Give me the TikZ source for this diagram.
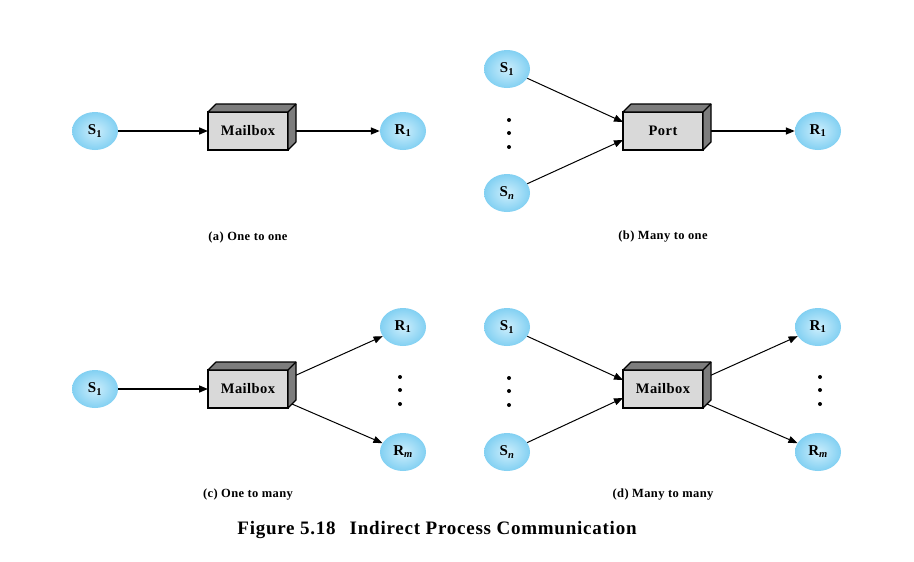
\documentclass[tikz,border=0pt]{standalone}
\usepackage{fontspec}
\setmainfont{Liberation Serif}
\usetikzlibrary{positioning,arrows.meta,shapes.geometric,calc}
\definecolor{ballblue}{RGB}{130,208,242}
\definecolor{balllight}{RGB}{205,238,252}
\definecolor{boxface}{RGB}{217,217,217}
\definecolor{boxside}{RGB}{125,125,125}

\begin{document}
\begin{tikzpicture}[x=1pt, y=-1pt,
    proc/.style={ellipse, minimum width=46pt, minimum height=38pt, inner sep=0pt,
                 inner color=balllight, outer color=ballblue,
                 font=\fontsize{15}{17}\selectfont\bfseries},
    queue/.style={rectangle, draw=black, line width=1.5pt, fill=boxface, outer sep=0pt,
                  minimum width=80pt, minimum height=38pt,
                  font=\fontsize{14.5}{16}\selectfont\bfseries\addfontfeature{LetterSpace=3}},
    arrow/.style={-{Triangle[length=9pt,width=7pt]}, line width=1.6pt},
    slant/.style={-{Triangle[length=9pt,width=7pt]}, line width=1pt},
    caption/.style={font=\fontsize{12.5}{14}\selectfont\bfseries\addfontfeature{LetterSpace=3}}
]
    \useasboundingbox (0,0) rectangle (914,562);

    % (a) one to one
    \node[proc] (s1a) at (95,131) {S\textsubscript{1}};
    \node[queue] (mba) at (248,131) {Mailbox};
    \node[proc] (r1a) at (403,131) {R\textsubscript{1}};
    \node[caption] (capa) at (248,237) {(a) One to one};

    % (b) many to one
    \node[proc] (s1b) at (507,69) {S\textsubscript{1}};
    \node[proc] (snb) at (507,193) {S\textsubscript{\itshape n}};
    \node[queue] (port) at (663,131) {Port};
    \node[proc] (r1b) at (818,131) {R\textsubscript{1}};
    \node[caption] (capb) at (663,237) {(b) Many to one};

    % (c) one to many
    \node[proc] (s1c) at (95,389) {S\textsubscript{1}};
    \node[queue] (mbc) at (248,389) {Mailbox};
    \node[proc] (r1c) at (403,327) {R\textsubscript{1}};
    \node[proc] (rmc) at (403,452) {R\textsubscript{\itshape m}};
    \node[caption] (capc) at (248,495) {(c) One to many};

    % (d) many to many
    \node[proc] (s1d) at (507,327) {S\textsubscript{1}};
    \node[proc] (snd) at (507,452) {S\textsubscript{\itshape n}};
    \node[queue] (mbd) at (663,389) {Mailbox};
    \node[proc] (r1d) at (818,327) {R\textsubscript{1}};
    \node[proc] (rmd) at (818,452) {R\textsubscript{\itshape m}};
    \node[caption] (capd) at (663,495) {(d) Many to many};

    \node[font=\fontsize{19}{21}\selectfont\bfseries\addfontfeature{LetterSpace=4}]
        (title) at (437,530) {Figure 5.18\hspace{14pt}Indirect Process Communication};

    % dots
    \foreach \x/\y in {509/120, 509/133, 509/147, 400/377, 400/390, 400/404,
                       509/378, 509/391, 509/405, 820/377, 820/390, 820/404}
        \fill (\x,\y) circle (2pt);

    % connectors
    \draw[arrow] (s1a) -- (mba);
    \draw[arrow] (mba) -- (r1a);
    \draw[slant] (s1b) -- ($(port.west)+(0,-9)$);
    \draw[slant] (snb) -- ($(port.west)+(0,9)$);
    \draw[arrow] (port) -- (r1b);
    \draw[arrow] (s1c) -- (mbc);
    \draw[slant] ($(mbc.east)+(4,-12)$) -- (r1c);
    \draw[slant] ($(mbc.east)+(4,15)$) -- (rmc);
    \draw[slant] (s1d) -- ($(mbd.west)+(0,-9)$);
    \draw[slant] (snd) -- ($(mbd.west)+(0,9)$);
    \draw[slant] ($(mbd.east)+(4,-12)$) -- (r1d);
    \draw[slant] ($(mbd.east)+(4,15)$) -- (rmd);

    % top and side faces of the boxes
    \foreach \b in {mba, port, mbc, mbd} {
        \filldraw[fill=boxside, line width=1.2pt, line join=round]
            (\b.north west) -- ++(8,-8) -- ($(\b.north east)+(8,-8)$)
            -- ($(\b.south east)+(8,-8)$) -- (\b.south east) -- (\b.north east) -- cycle;
        \draw[line width=1.2pt] (\b.north east) -- ++(8,-8);
    }
\end{tikzpicture}
\end{document}
